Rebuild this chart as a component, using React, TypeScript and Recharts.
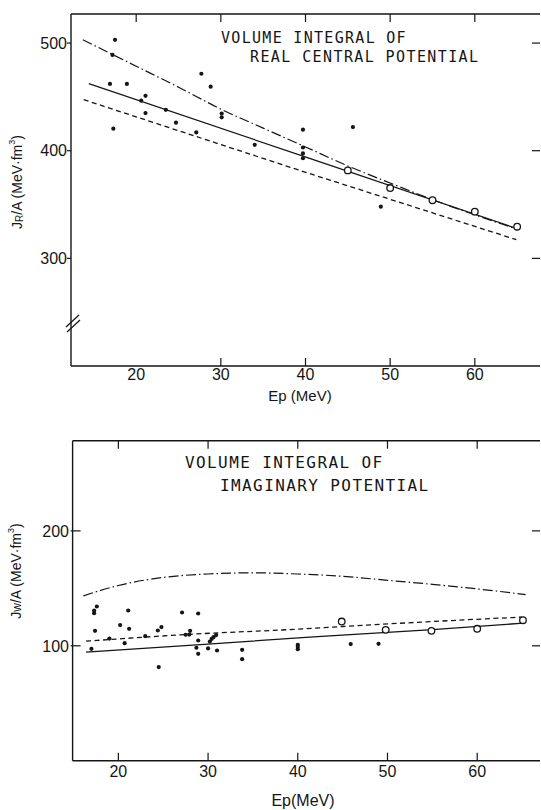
import React from 'react';
import { ComposedChart, Line, Scatter, XAxis, YAxis } from 'recharts';

const FONT = "'Liberation Sans', Arial, sans-serif";
const MONO = "'DejaVu Sans Mono', 'Liberation Mono', monospace";
const INK = '#151515';

// x ticks shared by both panels (Ep in MeV)
const epTicks = [20, 30, 40, 50, 60];

// ---- upper panel: real central potential, J_R/A
const realTicks = [300, 400, 500];
const realDots = [
  { ep: 17.5, j: 503 }, { ep: 17.2, j: 489 }, { ep: 16.9, j: 462 }, { ep: 18.9, j: 462 },
  { ep: 17.3, j: 420.5 }, { ep: 20.6, j: 446.5 }, { ep: 21.1, j: 451 }, { ep: 21.1, j: 435 },
  { ep: 23.5, j: 438 }, { ep: 24.7, j: 426 }, { ep: 27.1, j: 417 }, { ep: 27.7, j: 471.5 },
  { ep: 28.8, j: 459.5 }, { ep: 30.1, j: 434.5 }, { ep: 30.1, j: 431 }, { ep: 34.0, j: 405.5 },
  { ep: 39.7, j: 419.5 }, { ep: 39.7, j: 403 }, { ep: 39.7, j: 397.5 }, { ep: 39.7, j: 393 },
  { ep: 45.6, j: 422 }, { ep: 48.9, j: 348 },
];
const realOpen = [
  { ep: 45, j: 381.7 }, { ep: 50, j: 365.3 }, { ep: 55, j: 354 }, { ep: 60, j: 343.4 }, { ep: 65, j: 329.4 },
];
const realSolid = [{ ep: 14.4, j: 462.3 }, { ep: 39.7, j: 395 }, { ep: 65, j: 327.6 }];
const realDashed = [{ ep: 13.8, j: 447.4 }, { ep: 40.5, j: 378.7 }, { ep: 64.9, j: 317.4 }];
const realDashDot = [
  { ep: 13.7, j: 503 }, { ep: 20, j: 478.5 }, { ep: 25, j: 459 }, { ep: 30.3, j: 437.5 },
  { ep: 35, j: 421 }, { ep: 40, j: 403.5 }, { ep: 44.85, j: 386.4 }, { ep: 50.7, j: 367.8 },
  { ep: 55, j: 354.5 }, { ep: 60, j: 340.5 }, { ep: 65, j: 327 },
];

// ---- lower panel: imaginary potential, J_W/A
const imagTicks = [100, 200];
const imagDots = [
  { ep: 17.0, j: 97.4 }, { ep: 17.3, j: 128.4 }, { ep: 17.3, j: 130.7 }, { ep: 17.6, j: 134.2 },
  { ep: 17.4, j: 113 }, { ep: 19.0, j: 106.3 }, { ep: 20.2, j: 118 }, { ep: 20.7, j: 102.3 },
  { ep: 21.1, j: 130.7 }, { ep: 21.2, j: 114.8 }, { ep: 23.0, j: 108.4 }, { ep: 24.5, j: 81.5 },
  { ep: 24.4, j: 113.3 }, { ep: 24.8, j: 116.3 }, { ep: 27.1, j: 129 }, { ep: 27.5, j: 109.6 },
  { ep: 27.9, j: 109.8 }, { ep: 28.0, j: 113 }, { ep: 28.9, j: 128.1 }, { ep: 28.9, j: 104.6 },
  { ep: 28.7, j: 98.3 }, { ep: 28.9, j: 93 }, { ep: 30.0, j: 97.7 }, { ep: 30.2, j: 103.7 },
  { ep: 30.4, j: 106 }, { ep: 30.6, j: 107.5 }, { ep: 30.9, j: 109.3 }, { ep: 31.0, j: 95.9 },
  { ep: 33.8, j: 96.5 }, { ep: 33.8, j: 88.4 }, { ep: 40.0, j: 100.9 }, { ep: 40.0, j: 99 },
  { ep: 40.0, j: 97.1 }, { ep: 45.9, j: 101.5 }, { ep: 49.0, j: 101.7 },
];
const imagOpen = [
  { ep: 44.9, j: 121.1 }, { ep: 49.8, j: 113.9 }, { ep: 54.9, j: 113 }, { ep: 60, j: 114.8 }, { ep: 65.1, j: 122.3 },
];
const imagSolid = [
  { ep: 16.4, j: 94.5 }, { ep: 30, j: 101.5 }, { ep: 41.3, j: 107.5 }, { ep: 55, j: 114 }, { ep: 65.1, j: 119.7 },
];
const imagDashed = [
  { ep: 16.4, j: 104 }, { ep: 28, j: 110 }, { ep: 40, j: 114.5 }, { ep: 45, j: 116.8 },
  { ep: 53, j: 120.3 }, { ep: 65, j: 125 },
];
const imagDashDot = [
  { ep: 16.1, j: 143.5 }, { ep: 20, j: 152.5 }, { ep: 25, j: 159.5 }, { ep: 30, j: 162.5 },
  { ep: 35, j: 163.5 }, { ep: 40, j: 162.5 }, { ep: 45, j: 160.5 }, { ep: 50, j: 157 },
  { ep: 55, j: 153.5 }, { ep: 60, j: 149.5 }, { ep: 65.4, j: 144.6 },
];

const DASH = '5 3.5';
const DASHDOT = '10 3 1.5 3';

const FilledDot = (p: any) =>
  p.cx == null ? <g /> : <circle cx={p.cx} cy={p.cy} r={2.1} fill={INK} />;
const OpenDot = (p: any) =>
  p.cx == null ? <g /> : <circle cx={p.cx} cy={p.cy} r={3.3} fill="#fff" stroke={INK} strokeWidth={1.3} />;

// bottom axis tick: label below, short tick pointing up into the plot
const bottomTick = (margin: number, noLine: number[]) => (p: any) => {
  const v = p.payload.value;
  const axisY = p.y - margin;
  return (
    <g>
      {!noLine.includes(v) && <line x1={p.x} x2={p.x} y1={axisY} y2={axisY - 8} stroke={INK} strokeWidth={1.2} />}
      <text x={p.x} y={p.y} dy="0.72em" textAnchor="middle" fontSize={16} fontFamily={FONT} fill={INK}>
        {v}
      </text>
    </g>
  );
};

// left axis tick: label + tick line crossing the axis
const leftTick = (margin: number, out: number, inner: number) => (p: any) => {
  const axisX = p.x + margin;
  return (
    <g>
      <line x1={axisX - out} x2={axisX + inner} y1={p.y} y2={p.y} stroke={INK} strokeWidth={1.2} />
      <text x={p.x} y={p.y} dy="0.36em" textAnchor="end" fontSize={16} fontFamily={FONT} fill={INK}>
        {p.payload.value}
      </text>
    </g>
  );
};

const topTick = (p: any) => (
  <line x1={p.x} x2={p.x} y1={p.y} y2={p.y + 8} stroke={INK} strokeWidth={1.2} />
);
const rightTick = (p: any) => (
  <line x1={p.x - 8} x2={p.x} y1={p.y} y2={p.y} stroke={INK} strokeWidth={1.2} />
);

const axisLine = { stroke: INK, strokeWidth: 1.4 };

function YTitle({ cx, cy, sub, subSize }: { cx: number; cy: number; sub: string; subSize: number }) {
  return (
    <text
      x={cx}
      y={cy}
      transform={`rotate(-90 ${cx} ${cy})`}
      textAnchor="middle"
      dominantBaseline="central"
      fontSize={14}
      fontFamily={FONT}
      fill={INK}
    >
      J<tspan fontSize={subSize} dy={1.5}>{sub}</tspan>
      <tspan dy={-1.5}>/A (MeV·fm</tspan>
      <tspan fontSize={9} dy={-5}>3</tspan>
      <tspan dy={5}>)</tspan>
    </text>
  );
}

function XTitle({ cx, cy, text, size }: { cx: number; cy: number; text: string; size: number }) {
  return (
    <text x={cx} y={cy} textAnchor="middle" dominantBaseline="central" fontSize={size} fontFamily={FONT} fill={INK}>
      {text}
    </text>
  );
}

function RealPanel() {
  const dom: [number, number] = [12.3, 67.7];
  const yDom: [number, number] = [200, 527];
  return (
    <ComposedChart width={541} height={410} margin={{ top: 13, right: 0, bottom: 0, left: 0 }}>
      <XAxis
        type="number"
        dataKey="ep"
        domain={dom}
        ticks={epTicks}
        allowDataOverflow
        height={44}
        axisLine={axisLine}
        tickLine={false}
        tickSize={0}
        tickMargin={2}
        tick={bottomTick(2, [20])}
        label={{ content: () => <XTitle cx={300} cy={395} text="Ep (MeV)" size={15} /> }}
      />
      {/* frame top edge; same scale as the bottom axis */}
      <XAxis
        xAxisId="top"
        orientation="top"
        type="number"
        dataKey="ep"
        domain={dom}
        ticks={epTicks}
        allowDataOverflow
        height={1}
        axisLine={axisLine}
        tickLine={false}
        tickSize={0}
        tickMargin={0}
        tick={topTick}
      />
      <YAxis
        type="number"
        dataKey="j"
        domain={yDom}
        ticks={realTicks}
        allowDataOverflow
        width={71}
        axisLine={axisLine}
        tickLine={false}
        tickSize={0}
        tickMargin={4}
        tick={leftTick(4, 4, 0)}
        label={{ content: () => <YTitle cx={17} cy={182} sub="R" subSize={10} /> }}
      />
      <YAxis
        yAxisId="right"
        orientation="right"
        type="number"
        dataKey="j"
        domain={yDom}
        ticks={realTicks}
        allowDataOverflow
        width={1}
        axisLine={false}
        tickLine={false}
        tickSize={0}
        tickMargin={0}
        tick={rightTick}
      />
      <Line data={realDashDot} dataKey="j" xAxisId="top" yAxisId="right" type="monotone" stroke={INK} strokeWidth={1.2} strokeDasharray={DASHDOT} dot={false} isAnimationActive={false} />
      <Line data={realSolid} dataKey="j" type="linear" stroke={INK} strokeWidth={1.2} dot={false} isAnimationActive={false} />
      <Line data={realDashed} dataKey="j" type="linear" stroke={INK} strokeWidth={1.3} strokeDasharray={DASH} dot={false} isAnimationActive={false} />
      <Scatter data={realDots} dataKey="j" shape={FilledDot} isAnimationActive={false} />
      <Scatter data={realOpen} dataKey="j" shape={OpenDot} isAnimationActive={false} />
    </ComposedChart>
  );
}

function ImagPanel() {
  const dom: [number, number] = [14.9, 67.0];
  const yDom: [number, number] = [0, 278.5];
  return (
    <ComposedChart width={541} height={400} margin={{ top: 29.7, right: 0, bottom: 0, left: 0 }}>
      <XAxis
        type="number"
        dataKey="ep"
        domain={dom}
        ticks={epTicks}
        allowDataOverflow
        height={49.3}
        axisLine={axisLine}
        tickLine={false}
        tickSize={0}
        tickMargin={5}
        tick={bottomTick(5, [])}
        label={{ content: () => <XTitle cx={303} cy={390} text="Ep(MeV)" size={16} /> }}
      />
      <XAxis
        xAxisId="top"
        orientation="top"
        type="number"
        dataKey="ep"
        domain={dom}
        ticks={epTicks}
        allowDataOverflow
        height={1}
        axisLine={axisLine}
        tickLine={false}
        tickSize={0}
        tickMargin={0}
        tick={topTick}
      />
      <YAxis
        type="number"
        dataKey="j"
        domain={yDom}
        ticks={imagTicks}
        allowDataOverflow
        width={72.6}
        axisLine={axisLine}
        tickLine={false}
        tickSize={0}
        tickMargin={3.6}
        tick={leftTick(3.6, 2, 8)}
        label={{ content: () => <YTitle cx={15.5} cy={161} sub="w" subSize={12} /> }}
      />
      <YAxis
        yAxisId="right"
        orientation="right"
        type="number"
        dataKey="j"
        domain={yDom}
        ticks={imagTicks}
        allowDataOverflow
        width={1}
        axisLine={false}
        tickLine={false}
        tickSize={0}
        tickMargin={0}
        tick={rightTick}
      />
      <Line data={imagDashDot} dataKey="j" xAxisId="top" yAxisId="right" type="monotone" stroke={INK} strokeWidth={1.2} strokeDasharray={DASHDOT} dot={false} isAnimationActive={false} />
      <Line data={imagSolid} dataKey="j" type="linear" stroke={INK} strokeWidth={1.3} dot={false} isAnimationActive={false} />
      <Line data={imagDashed} dataKey="j" type="monotone" stroke={INK} strokeWidth={1.3} strokeDasharray={DASH} dot={false} isAnimationActive={false} />
      <Scatter data={imagDots} dataKey="j" shape={FilledDot} isAnimationActive={false} />
      <Scatter data={imagOpen} dataKey="j" shape={OpenDot} isAnimationActive={false} />
    </ComposedChart>
  );
}

export default function App() {
  return (
    <div style={{ position: 'absolute', left: 0, top: 0, width: 541, height: 810, overflow: 'hidden', background: '#fff' }}>
      <div style={{ position: 'absolute', left: 0, top: 0 }}>
        <RealPanel />
      </div>
      <div style={{ position: 'absolute', left: 0, top: 410 }}>
        <ImagPanel />
      </div>
      {/* panel titles and the axis-break mark */}
      <svg width={541} height={810} style={{ position: 'absolute', left: 0, top: 0, pointerEvents: 'none' }}>
        <g fontFamily={MONO} fill={INK}>
          <text x={221} y={43.3} fontSize={15} letterSpacing={1.3}>VOLUME INTEGRAL OF</text>
          <text x={250} y={61.7} fontSize={15} letterSpacing={1.4}>REAL CENTRAL POTENTIAL</text>
          <text x={185} y={467.7} fontSize={16} letterSpacing={1.4}>VOLUME INTEGRAL OF</text>
          <text x={220} y={491} fontSize={16} letterSpacing={1.4}>IMAGINARY POTENTIAL</text>
        </g>
        <g stroke={INK} strokeWidth={1.2}>
          <line x1={66} y1={327} x2={79} y2={315} />
          <line x1={67} y1={332} x2={80} y2={320} />
        </g>
      </svg>
    </div>
  );
}
